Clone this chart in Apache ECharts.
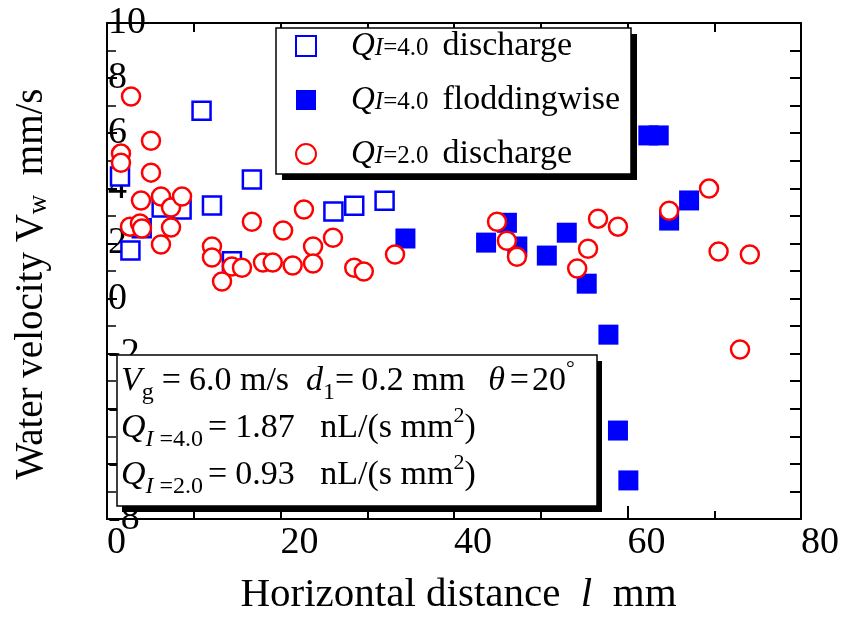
<!DOCTYPE html>
<html>
<head>
<meta charset="utf-8">
<script src="https://cdn.jsdelivr.net/npm/echarts@6.0.0/dist/echarts.min.js"></script>
<style>
    html, body { margin: 0; padding: 0; background: #fff; }
    #myScatterChart { width: 847px; height: 618px; }
</style>
</head>
<body>
<div id="myScatterChart"></div>
<script>
// Q_I=4.0 discharge (open squares)
var dischargeX40 = [1.5, 2.7, 4.0, 6.3, 8.6, 10.9, 12.1, 14.4, 16.7, 26.1, 28.5, 32.0];
var dischargeY40 = [4.43, 1.74, 2.55, 3.3, 3.23, 6.82, 3.38, 1.35, 4.32, 3.16, 3.37, 3.55];

// Q_I=4.0 floddingwise (filled squares)
var floodX40 = [34.4, 43.7, 46.1, 47.3, 50.7, 53.0, 55.3, 57.8, 58.9, 60.1, 62.4, 63.6, 64.8, 67.1];
var floodY40 = [2.18, 2.03, 2.75, 1.89, 1.56, 2.39, 0.54, -1.31, -4.79, -6.6, 5.92, 5.92, 2.83, 3.56];

// Q_I=2.0 discharge (open circles)
var dischargeX20 = [2.77, 1.61, 1.61, 5.07, 5.07, 3.92, 2.65, 3.8, 4.03, 6.22, 7.38, 8.65, 7.38, 6.22,
    12.1, 12.1, 13.26, 14.4, 15.56, 16.7, 17.98, 19.1, 20.3, 21.4, 22.7, 23.75, 23.75, 26.05, 28.5, 29.6,
    33.2, 44.96, 46.1, 47.26, 54.2, 55.45, 56.6, 58.9, 64.8, 69.4, 70.5, 74.1, 72.97];
var dischargeY20 = [7.33, 5.26, 4.93, 5.73, 4.57, 3.56, 2.61, 2.72, 2.54, 3.7, 3.3, 3.7, 2.58, 1.96,
    1.89, 1.49, 0.62, 1.16, 1.12, 2.79, 1.31, 1.31, 2.47, 1.2, 3.23, 1.89, 1.27, 2.21, 1.12, 0.98,
    1.6, 2.79, 2.1, 1.52, 1.09, 1.81, 2.9, 2.61, 3.19, 3.99, 1.71, 1.6, -1.85];

var seriesNames = ['Q4.0 discharge', 'Q4.0 floddingwise', 'Q2.0 discharge'];
var legendLabels = {
    'Q4.0 discharge': '{q|Q}{si|I}{s|=4.0}{w|discharge}',
    'Q4.0 floddingwise': '{q|Q}{si|I}{s|=4.0}{w|floddingwise}',
    'Q2.0 discharge': '{q|Q}{si|I}{s|=2.0}{w|discharge}'
};
var noteLines = [
    '{v|V}{b|g}{e1|=}{t|6.0 m/s  }{v|d}{b|1}{e2|=}{t|0.2 mm  }{th|θ}{e3|=}{t|20}{p|°}',
    '{v|Q}{bi|I}{b| =4.0}{e4|=}{t|1.87   nL/(s mm}{p|2}{t|)}',
    '{v|Q}{bi|I}{b| =2.0}{e4|=}{t|0.93   nL/(s mm}{p|2}{t|)}'
];

var SERIF = "'Liberation Serif', 'Times New Roman', serif";

function pairs(xs, ys) {
    var out = [];
    for (var i = 0; i < xs.length; i++) {
        out.push([xs[i], ys[i]]);
    }
    return out;
}

function drawchart() {
    var chart = echarts.init(document.getElementById('myScatterChart'));

    var axisBlack = { color: '#000', width: 2 };
    var mainTxt = { fontFamily: SERIF, fontSize: 34, lineHeight: 47 };

    var option = {
        animation: false,
        backgroundColor: '#fff',
        grid: {
            left: 107,
            right: 46,
            top: 23,
            bottom: 99,
            containLabel: false,
            outerBoundsMode: 'none'
        },
        legend: {
            orient: 'vertical',
            left: 295,
            top: 29,
            padding: 0,
            itemGap: 20,
            itemWidth: 20,
            itemHeight: 20,
            data: seriesNames,
            formatter: function (name) {
                return legendLabels[name];
            },
            textStyle: {
                color: '#000',
                padding: [0, 0, 0, 30],
                rich: {
                    q: { fontFamily: SERIF, fontStyle: 'italic', fontSize: 33, lineHeight: 30 },
                    si: { fontFamily: SERIF, fontStyle: 'italic', fontSize: 25, lineHeight: 12, verticalAlign: 'bottom' },
                    s: { fontFamily: SERIF, fontSize: 25, lineHeight: 12, verticalAlign: 'bottom' },
                    w: { fontFamily: SERIF, fontSize: 34, lineHeight: 30, padding: [0, 0, 0, 14] }
                }
            }
        },
        xAxis: [
            {
                type: 'value',
                position: 'bottom',
                min: 0,
                max: 80,
                interval: 20,
                name: '{t|Horizontal distance  }{l|l}{t|  mm}',
                nameLocation: 'middle',
                nameGap: 56,
                nameMoveOverlap: false,
                nameTextStyle: {
                    color: '#000',
                    padding: [0, 0, 0, 9],
                    rich: {
                        t: { fontFamily: SERIF, fontSize: 41, lineHeight: 40 },
                        l: { fontFamily: SERIF, fontStyle: 'italic', fontSize: 41, lineHeight: 40 }
                    }
                },
                axisLine: { onZero: false, lineStyle: axisBlack },
                axisTick: { inside: true, length: 13, lineStyle: { color: '#000', width: 2 } },
                minorTick: { show: true, splitNumber: 2, length: 8, lineStyle: { color: '#000', width: 2 } },
                axisLabel: { margin: 5, align: 'left', fontFamily: SERIF, fontSize: 38, color: '#000' },
                splitLine: { show: false }
            },
            {
                type: 'value',
                position: 'top',
                min: 0,
                max: 80,
                interval: 10,
                axisLine: { onZero: false, lineStyle: axisBlack },
                axisTick: { inside: true, length: 9, lineStyle: { color: '#000', width: 2 } },
                axisLabel: { show: false },
                splitLine: { show: false }
            }
        ],
        yAxis: [
            {
                type: 'value',
                position: 'left',
                min: -8,
                max: 10,
                interval: 2,
                name: '{t|Water velocity }{t|V}{b|w}{t|  mm/s}',
                nameLocation: 'middle',
                nameGap: 55,
                nameRotate: 90,
                nameMoveOverlap: false,
                nameTextStyle: {
                    color: '#000',
                    padding: [0, 26, 0, 0],
                    rich: {
                        t: { fontFamily: SERIF, fontSize: 39, lineHeight: 40 },
                        b: { fontFamily: SERIF, fontSize: 27, lineHeight: 22, verticalAlign: 'bottom' }
                    }
                },
                axisLine: { onZero: false, lineStyle: axisBlack },
                axisTick: { inside: true, length: 10, lineStyle: { color: '#000', width: 2 } },
                minorTick: { show: true, splitNumber: 2, length: 9, lineStyle: { color: '#000', width: 1.5 } },
                axisLabel: { inside: true, margin: 1, align: 'left', fontFamily: SERIF, fontSize: 38, color: '#000' },
                splitLine: { show: false }
            },
            {
                type: 'value',
                position: 'right',
                min: -8,
                max: 10,
                interval: 1,
                axisLine: { onZero: false, lineStyle: axisBlack },
                axisTick: { inside: true, length: 11, lineStyle: { color: '#000', width: 2 } },
                axisLabel: { show: false },
                splitLine: { show: false }
            }
        ],
        graphic: [
            // legend frame + hard shadow
            { type: 'rect', z: 3, shape: { x: 282, y: 34, width: 355, height: 146 }, style: { fill: '#000' } },
            { type: 'rect', z: 3, shape: { x: 276, y: 28, width: 355, height: 146 }, style: { fill: '#fff', stroke: '#000', lineWidth: 1.5 } },
            // condition box
            { type: 'rect', z: 3, shape: { x: 122, y: 361, width: 480, height: 151 }, style: { fill: '#000' } },
            { type: 'rect', z: 3, shape: { x: 117, y: 355, width: 480, height: 151 }, style: { fill: '#fff', stroke: '#000', lineWidth: 1.5 } },
            {
                type: 'text',
                z: 3,
                x: 121,
                y: 358,
                style: {
                    text: noteLines.join('\n'),
                    fill: '#000',
                    verticalAlign: 'top',
                    rich: {
                        t: mainTxt,
                        v: { fontFamily: SERIF, fontStyle: 'italic', fontSize: 34, lineHeight: 47 },
                        th: { fontFamily: SERIF, fontStyle: 'italic', fontSize: 34, lineHeight: 47, padding: [0, 0, 0, 6] },
                        e1: { fontFamily: SERIF, fontSize: 34, lineHeight: 47, padding: [0, 8, 0, 8] },
                        e2: { fontFamily: SERIF, fontSize: 34, lineHeight: 47, padding: [0, 7, 0, 0] },
                        e3: { fontFamily: SERIF, fontSize: 34, lineHeight: 47, padding: [0, 3, 0, 5] },
                        e4: { fontFamily: SERIF, fontSize: 34, lineHeight: 47, padding: [0, 8, 0, 5] },
                        b: { fontFamily: SERIF, fontSize: 24, lineHeight: 24, verticalAlign: 'bottom' },
                        bi: { fontFamily: SERIF, fontStyle: 'italic', fontSize: 24, lineHeight: 24, verticalAlign: 'bottom' },
                        p: { fontFamily: SERIF, fontSize: 22, lineHeight: 30, verticalAlign: 'top' }
                    }
                }
            }
        ],
        series: [
            {
                name: seriesNames[0],
                type: 'scatter',
                symbol: 'rect',
                symbolSize: 18,
                itemStyle: { color: '#fff', borderColor: '#0000ff', borderWidth: 2.5, opacity: 1 },
                data: pairs(dischargeX40, dischargeY40)
            },
            {
                name: seriesNames[1],
                type: 'scatter',
                symbol: 'rect',
                symbolSize: 20,
                itemStyle: { color: '#0000ff', opacity: 1 },
                data: pairs(floodX40, floodY40)
            },
            {
                name: seriesNames[2],
                type: 'scatter',
                symbol: 'circle',
                symbolSize: 18,
                itemStyle: { color: '#fff', borderColor: '#ff0000', borderWidth: 2.5, opacity: 1 },
                data: pairs(dischargeX20, dischargeY20)
            }
        ]
    };
    chart.setOption(option);
}

drawchart();
</script>
</body>
</html>
